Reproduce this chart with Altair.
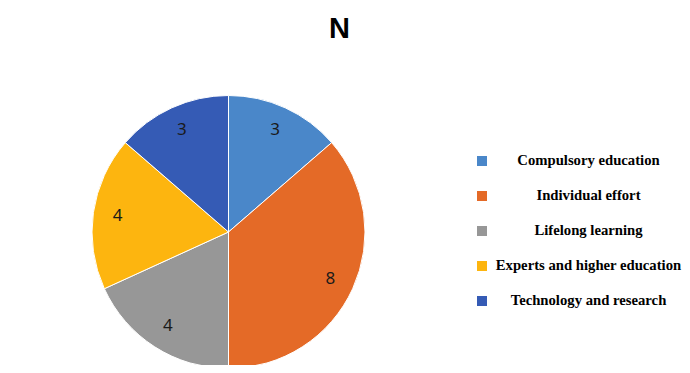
import altair as alt
import pandas as pd

categories = ["Compulsory education", "Individual effort", "Lifelong learning",
              "Experts and higher education", "Technology and research"]
values = [3, 8, 4, 4, 3]
colors = ["#4a87c9", "#e46a27", "#979797", "#fdb50f", "#355bb5"]
title_text = "N"

df = pd.DataFrame({"cat": categories, "val": values, "idx": list(range(len(categories)))})

cx, cy, R = 220.5, 224, 136.5

color_scale = alt.Scale(domain=categories, range=colors)

base = alt.Chart(df)

pie = base.mark_arc(radius=R, stroke="white", strokeWidth=1).encode(
    theta=alt.Theta("val:Q", stack=True),
    order=alt.Order("idx:Q"),
    color=alt.Color("cat:N", scale=color_scale, legend=None),
    x=alt.value(cx), y=alt.value(cy),
)

labels = base.mark_text(radius=112, font="Noto Sans", fontSize=17, color="#1a1a1a").encode(
    theta=alt.Theta("val:Q", stack=True),
    order=alt.Order("idx:Q"),
    text=alt.Text("val:Q"),
    x=alt.value(cx), y=alt.value(cy),
)

yscale = alt.Scale(domain=[0, len(categories) - 1], range=[153, 293])

leg_sq = base.mark_square(size=100, opacity=1).encode(
    x=alt.value(474),
    y=alt.Y("idx:Q", scale=yscale, axis=None),
    color=alt.Color("cat:N", scale=color_scale, legend=None),
)

leg_txt = base.mark_text(font="Liberation Serif", fontWeight="bold", fontSize=14.7,
                         color="#000000", align="center", baseline="middle").encode(
    x=alt.value(580.5),
    y=alt.Y("idx:Q", scale=yscale, axis=None),
    text="cat:N",
)

title = alt.Chart(pd.DataFrame({"t": [title_text]})).mark_text(
    font="Liberation Sans", fontWeight="bold", fontSize=29, color="#000000",
    align="center", baseline="alphabetic").encode(
    x=alt.value(331.5), y=alt.value(30), text="t:N")

chart = alt.layer(pie, labels, leg_sq, leg_txt, title).properties(
    width=674, height=357, autosize=alt.AutoSizeParams(type="none"), padding=0,
    background="white"
).configure_view(stroke=None, strokeWidth=0)

chart.save("out.html", embed_options={"renderer": "svg", "actions": False})
